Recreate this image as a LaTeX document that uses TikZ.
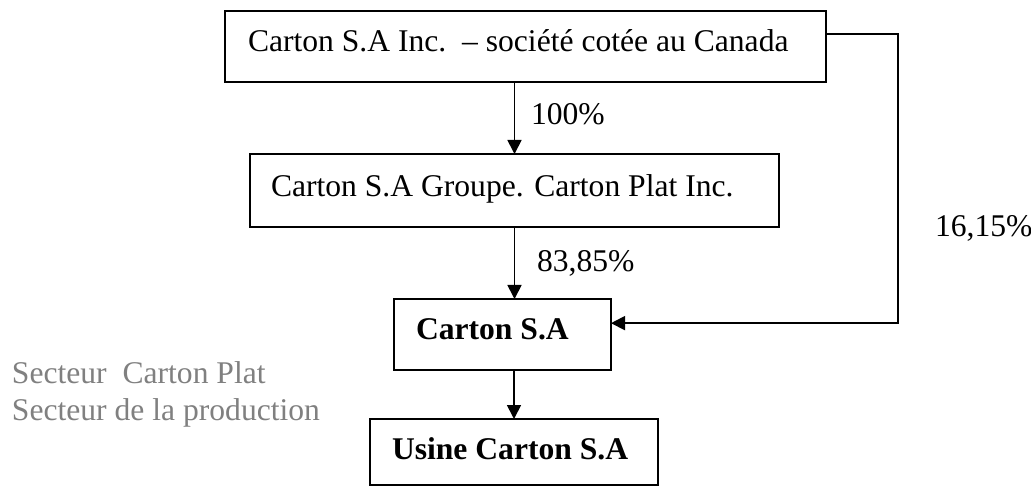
\documentclass[tikz,border=0pt]{standalone}
\usepackage{fontspec}
\setmainfont{Liberation Serif}
\usetikzlibrary{arrows.meta,calc}
\definecolor{sectgray}{HTML}{808080}
\tikzset{
  box/.style={draw=black, line width=2pt, rectangle, inner sep=0pt, outer sep=0pt, anchor=north west},
  txt/.style={anchor=base west, inner sep=0pt, outer sep=0pt, font=\fontsize{31.6}{38}\selectfont},
  btxt/.style={txt, font=\fontsize{31.6}{38}\selectfont\bfseries},
  gtxt/.style={txt, text=sectgray},
  arr/.style={line width=1.8pt, -{Triangle[length=14pt,width=14pt]}},
}
\begin{document}
\begin{tikzpicture}[x=1pt,y=-1pt]
\useasboundingbox (0,0) rectangle (1031,486);
% boxes
\node[box, minimum width=601pt, minimum height=71pt] (b1) at (225,11) {};
\node[box, minimum width=529pt, minimum height=73pt] (b2) at (250,154) {};
\node[box, minimum width=217pt, minimum height=71pt] (b3) at (394,299) {};
\node[box, minimum width=288pt, minimum height=66pt] (b4) at (370,419) {};
% box texts
\node[txt] (t1) at (248,52) {Carton S.A Inc.\ \ – société cotée au Canada};
\node[txt] (t2) at (271,197) {Carton S.A Groupe. Carton Plat Inc.};
\node[btxt] (t3) at (416,340) {Carton S.A};
\node[btxt] (t4) at (392,459) {Usine Carton S.A};
% labels
\node[txt] (l1) at (531,125) {100\%};
\node[txt] (l2) at (537,272) {83,85\%};
\node[txt] (l3) at (935,237) {16,15\%};
\node[gtxt] (g1) at (12,384) {Secteur\ \ Carton Plat};
\node[gtxt] (g2) at (12,420) {Secteur de la production};
% connectors
\draw[arr] (b1.south -| b2.north) -- (b2.north);
\draw[arr] (b2.south) -- (b2.south |- b3.north);
\draw[arr] (b3.south -| b4.north) -- (b4.north);
\coordinate (r1) at ($(b1.north east)!0.32!(b1.south east)$);
\coordinate (r2) at ($(b3.north east)!0.34!(b3.south east)$);
\coordinate (rx) at (898,0);
\draw[arr] (r1) -- (r1 -| rx) -- (r2 -| rx) -- (r2);
\end{tikzpicture}
\end{document}
